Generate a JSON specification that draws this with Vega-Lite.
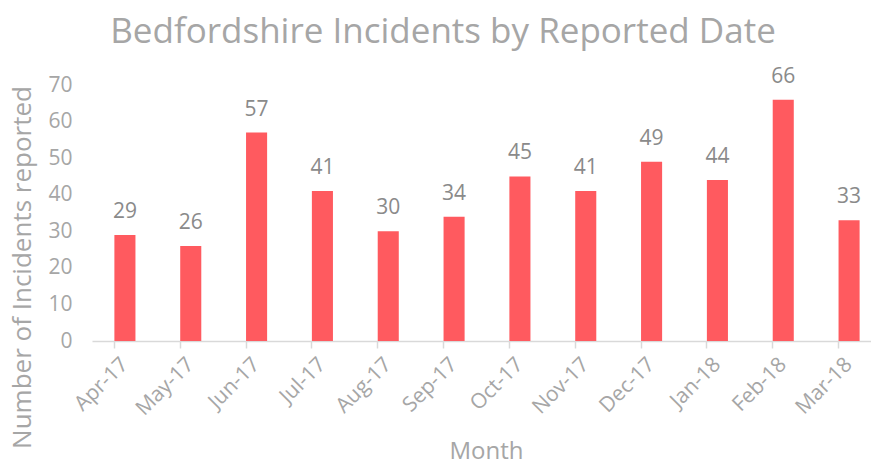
{
  "$schema": "https://vega.github.io/schema/vega-lite/v6.json",
  "autosize": "none",
  "width": 790,
  "height": 256,
  "padding": {"left": 92, "top": 85, "right": 0, "bottom": 123},
  "background": "white",
  "title": {
    "text": "Bedfordshire Incidents by Reported Date",
    "anchor": "middle",
    "frame": "group",
    "baseline": "alphabetic",
    "offset": 19,
    "dy": 31,
    "dx": -44,
    "font": "Open Sans",
    "fontSize": 35,
    "fontWeight": "normal",
    "color": "#a6a6a6"
  },
  "config": {
    "view": {"stroke": null},
    "font": "Open Sans"
  },
  "data": {
    "values": [
      {"month": "Apr-17", "count": 29},
      {"month": "May-17", "count": 26},
      {"month": "Jun-17", "count": 57},
      {"month": "Jul-17", "count": 41},
      {"month": "Aug-17", "count": 30},
      {"month": "Sep-17", "count": 34},
      {"month": "Oct-17", "count": 45},
      {"month": "Nov-17", "count": 41},
      {"month": "Dec-17", "count": 49},
      {"month": "Jan-18", "count": 44},
      {"month": "Feb-18", "count": 66},
      {"month": "Mar-18", "count": 33}
    ]
  },
  "encoding": {
    "x": {
      "field": "month",
      "type": "nominal",
      "sort": null,
      "scale": {"paddingInner": 0.68, "paddingOuter": 0.34},
      "axis": {
        "title": "Month",
        "titleFont": "Open Sans",
        "titleFontSize": 24,
        "titleFontWeight": "normal",
        "titleColor": "#a6a6a6",
        "titleX": 394,
        "titleY": 110,
        "titleBaseline": "middle",
        "titleAlign": "center",
        "labelAngle": -45,
        "labelAlign": "right",
        "labelBaseline": "middle",
        "labelFont": "Open Sans",
        "labelFontSize": 21,
        "labelColor": "#a6a6a6",
        "labelPadding": 13,
        "domainColor": "#d9d9d9",
        "domainWidth": 1.5,
        "tickColor": "#d9d9d9",
        "tickWidth": 1.5,
        "tickSize": 7,
        "bandPosition": 0,
        "grid": false
      }
    },
    "y": {
      "field": "count",
      "type": "quantitative",
      "scale": {"domain": [0, 70]},
      "axis": {
        "title": "Number of Incidents reported",
        "titleFont": "Open Sans",
        "titleFontSize": 26,
        "titleFontWeight": "normal",
        "titleColor": "#a6a6a6",
        "titleX": -70,
        "titleY": 182,
        "titleAngle": -90,
        "titleBaseline": "middle",
        "titleAlign": "center",
        "values": [0, 10, 20, 30, 40, 50, 60, 70],
        "labelFont": "Open Sans",
        "labelFontSize": 21,
        "labelColor": "#a6a6a6",
        "labelPadding": 20,
        "ticks": false,
        "domain": false,
        "grid": false
      }
    }
  },
  "layer": [
    {"mark": {"type": "bar", "color": "#ff5a5f"}},
    {
      "mark": {
        "type": "text",
        "baseline": "alphabetic",
        "dy": -17,
        "font": "Open Sans",
        "fontSize": 21,
        "color": "#8a8a8a"
      },
      "encoding": {"text": {"field": "count", "type": "quantitative"}}
    }
  ]
}
